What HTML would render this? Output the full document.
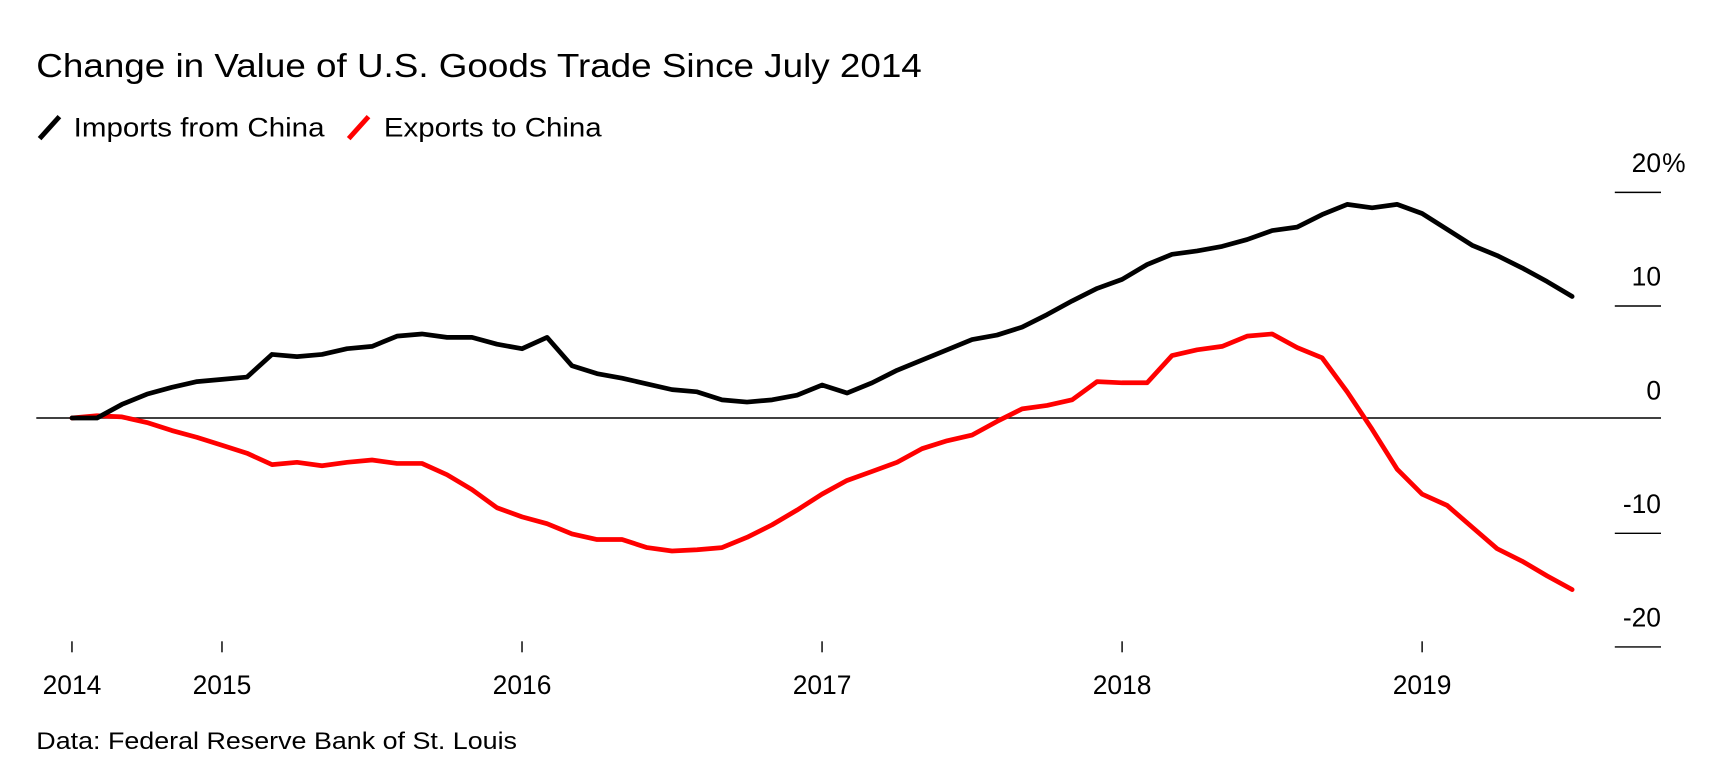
<!DOCTYPE html>
<html><head><meta charset="utf-8"><style>
html,body{margin:0;padding:0;background:#fff;}
svg{display:block;font-family:"Liberation Sans",Arial,sans-serif;}
</style></head><body>
<svg id="chart" width="1716" height="766" viewBox="0 0 1560 696.36" xmlns="http://www.w3.org/2000/svg">
<text x="33" y="70" font-size="30" textLength="805" lengthAdjust="spacingAndGlyphs" fill="#000">Change in Value of U.S. Goods Trade Since July 2014</text>
<g>
<g>
<line x1="36" y1="126" x2="54" y2="106" stroke="#000" stroke-width="4.5"/>
<text x="67" y="124" font-size="24" textLength="228" lengthAdjust="spacingAndGlyphs">Imports from China</text>
</g>
<g>
<line x1="317" y1="126" x2="335" y2="106" stroke="#ff0000" stroke-width="4.5"/>
<text x="349" y="124" font-size="24" textLength="198" lengthAdjust="spacingAndGlyphs">Exports to China</text>
</g>
</g>
<g id="yaxis"></g>
<g id="xaxis"></g>
<line x1="33" y1="380" x2="1510" y2="380" stroke="#000" stroke-width="1.3"/>
<g id="series"></g>
<text x="33" y="681" font-size="22" textLength="437" lengthAdjust="spacingAndGlyphs">Data: Federal Reserve Bank of St. Louis</text>
</svg>
<script>
const imports = [0,0,1.2,2.1,2.7,3.2,3.4,3.6,5.6,5.4,5.6,6.1,6.3,7.2,7.4,7.1,7.1,6.5,6.1,7.1,4.6,3.9,3.5,3.0,2.5,2.3,1.6,1.4,1.6,2.0,2.9,2.2,3.1,4.2,5.1,6.0,6.9,7.3,8.0,9.1,10.3,11.4,12.2,13.5,14.4,14.7,15.1,15.7,16.5,16.8,17.9,18.8,18.5,18.8,18.0,16.6,15.2,14.3,13.2,12.0,10.7];
const exportsCN = [0,0.2,0.1,-0.4,-1.1,-1.7,-2.4,-3.1,-4.1,-3.9,-4.2,-3.9,-3.7,-4.0,-4.0,-5.0,-6.3,-7.9,-8.7,-9.3,-10.2,-10.7,-10.7,-11.4,-11.7,-11.6,-11.4,-10.5,-9.4,-8.1,-6.7,-5.5,-4.7,-3.9,-2.7,-2.0,-1.5,-0.3,0.8,1.1,1.6,3.2,3.1,3.1,5.5,6.0,6.3,7.2,7.4,6.2,5.3,2.3,-1.0,-4.5,-6.7,-7.7,-9.6,-11.5,-12.6,-13.9,-15.1];
const yTicks = [20,10,0,-10,-20];
const xTickLabels = ["2014","2015","2016","2017","2018","2019"];
const xTickMonths = [0,6,18,30,42,54]; // months since Jul 2014

const NS="http://www.w3.org/2000/svg";
function xScale(m){return 201.8 + (m-6)*22.73;}
function yScale(v){return 380 - v*10.33;}
const yax=document.getElementById('yaxis');
yTicks.forEach(t=>{
  if(t!==0){
    const l=document.createElementNS(NS,'line');
    
    
    l.setAttribute('x1',1468);l.setAttribute('x2',1510);
    l.setAttribute('y1',yScale(t)+1.5);l.setAttribute('y2',yScale(t)+1.5);
    l.setAttribute('stroke','#000');l.setAttribute('stroke-width','1.3');
    yax.appendChild(l);
  }
  const tx=document.createElementNS(NS,'text');
  
  
  tx.setAttribute('x',1510);tx.setAttribute('y',yScale(t)-17);
  tx.setAttribute('text-anchor','end');tx.setAttribute('font-size','24');
  tx.textContent=String(t);
  yax.appendChild(tx);
  if(t===20){
    const p=document.createElementNS(NS,'text');
    
    
    p.setAttribute('x',1511);p.setAttribute('y',yScale(t)-17);p.setAttribute('font-size','24');
    p.textContent='%';
    yax.appendChild(p);
  }
});
const xax=document.getElementById('xaxis');
xTickLabels.forEach((lab,i)=>{
  const x=xScale(xTickMonths[i]);
  const l=document.createElementNS(NS,'line');
  
  
  l.setAttribute('x1',x);l.setAttribute('x2',x);l.setAttribute('y1',583);l.setAttribute('y2',593);
  l.setAttribute('stroke','#000');l.setAttribute('stroke-width','1.3');
  xax.appendChild(l);
  const tx=document.createElementNS(NS,'text');
  
  
  tx.setAttribute('x',x);tx.setAttribute('y',631);tx.setAttribute('text-anchor','middle');tx.setAttribute('font-size','24');
  tx.textContent=lab;
  xax.appendChild(tx);
});
const ser=document.getElementById('series');
function drawLine(data,color,name){
  const p=document.createElementNS(NS,'polyline');
  
  
  p.setAttribute('points',data.map((v,i)=>xScale(i).toFixed(1)+','+yScale(v).toFixed(1)).join(' '));
  p.setAttribute('fill','none');p.setAttribute('stroke',color);p.setAttribute('stroke-width','4.3');
  p.setAttribute('stroke-linejoin','round');p.setAttribute('stroke-linecap','round');
  ser.appendChild(p);
}
drawLine(exportsCN,'#ff0000','exports-line');
drawLine(imports,'#000000','imports-line');
</script>
</body></html>
